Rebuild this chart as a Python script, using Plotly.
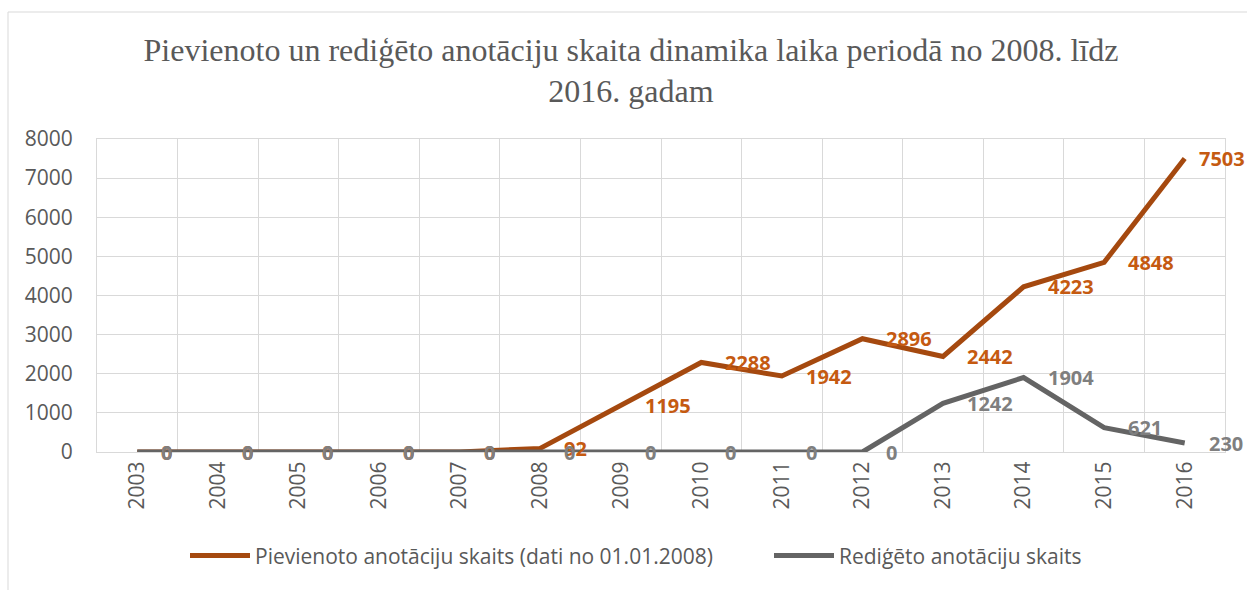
import plotly.graph_objects as go

years = ["2003", "2004", "2005", "2006", "2007", "2008", "2009",
         "2010", "2011", "2012", "2013", "2014", "2015", "2016"]
added = [0, 0, 0, 0, 0, 92, 1195, 2288, 1942, 2896, 2442, 4223, 4848, 7503]
edited = [0, 0, 0, 0, 0, 0, 0, 0, 0, 0, 1242, 1904, 621, 230]
y_ticks = [0, 1000, 2000, 3000, 4000, 5000, 6000, 7000, 8000]

name_added = "Pievienoto anotāciju skaits (dati no 01.01.2008)"
name_edited = "Rediģēto anotāciju skaits"
title_text = ("Pievienoto un rediģēto anotāciju skaita dinamika laika periodā no 2008. līdz"
              "<br>2016. gadam")

ORANGE_LINE = "#A5490F"
ORANGE_TEXT = "#C55A11"
GRAY_LINE = "#646464"
GRAY_TEXT = "#7F7F7F"
GRID = "#D9D9D9"
LABEL_FONT = "Open Sans"

fig = go.Figure()
fig.add_trace(go.Scatter(x=years, y=added, mode="lines", name=name_added,
                         line=dict(color=ORANGE_LINE, width=5), cliponaxis=False,
                         legend="legend"))
fig.add_trace(go.Scatter(x=years, y=edited, mode="lines", name=name_edited,
                         line=dict(color=GRAY_LINE, width=5), cliponaxis=False,
                         legend="legend2"))

annotations = []
for series, color in ((added, ORANGE_TEXT), (edited, GRAY_TEXT)):
    n = len(series)
    for i, v in enumerate(series):
        shift = 22
        if series is added and i == n - 1:
            shift = 12
        annotations.append(dict(x=i, y=v, xref="x", yref="y", text=str(v),
                                showarrow=False, xanchor="left", yanchor="middle",
                                xshift=shift,
                                font=dict(family=LABEL_FONT, size=20, color=color,
                                          weight="bold")))

legend_style = dict(orientation="h", xanchor="left", y=-0.332, yanchor="middle",
                    font=dict(family=LABEL_FONT, size=21, color="#595959"),
                    itemwidth=60, bgcolor="rgba(0,0,0,0)")

fig.update_layout(
    width=1247, height=590,
    margin=dict(l=97, r=22, t=139, b=138, autoexpand=False),
    paper_bgcolor="white", plot_bgcolor="white",
    title=dict(text=title_text, x=0.506, xref="container", xanchor="center",
               y=1 - 60.5 / 590, yref="container", yanchor="middle",
               font=dict(family="Liberation Serif", size=32, color="#595959")),
    xaxis=dict(type="category", range=[-0.5, len(years) - 0.5], tickson="boundaries",
               showgrid=True, gridcolor=GRID,
               gridwidth=1, ticks="", tickangle=-90, showline=True, linecolor=GRID,
               mirror=True, tickfont=dict(family=LABEL_FONT, size=21, color="#595959")),
    yaxis=dict(range=[0, 8000], tickvals=y_ticks, showgrid=True, gridcolor=GRID,
               gridwidth=1, zeroline=True, zerolinecolor=GRID, showline=True,
               linecolor=GRID, mirror=True, ticks="", ticklabelstandoff=19,
               tickfont=dict(family=LABEL_FONT, size=21, color="#595959")),
    showlegend=True,
    legend=dict(x=(185 - 97) / 1128, **legend_style),
    legend2=dict(x=(769 - 97) / 1128, **legend_style),
    annotations=annotations,
    shapes=[dict(type="rect", xref="paper", yref="paper",
                 x0=(8 - 97) / 1128, x1=(1260 - 97) / 1128,
                 y0=(452 - 600) / 313, y1=(452 - 12) / 313,
                 line=dict(color=GRID, width=1), fillcolor="rgba(0,0,0,0)",
                 layer="below")],
)

fig.write_html("out.html", config={"displayModeBar": False},
               post_script="document.body.style.margin='0';document.body.style.padding='0';")
